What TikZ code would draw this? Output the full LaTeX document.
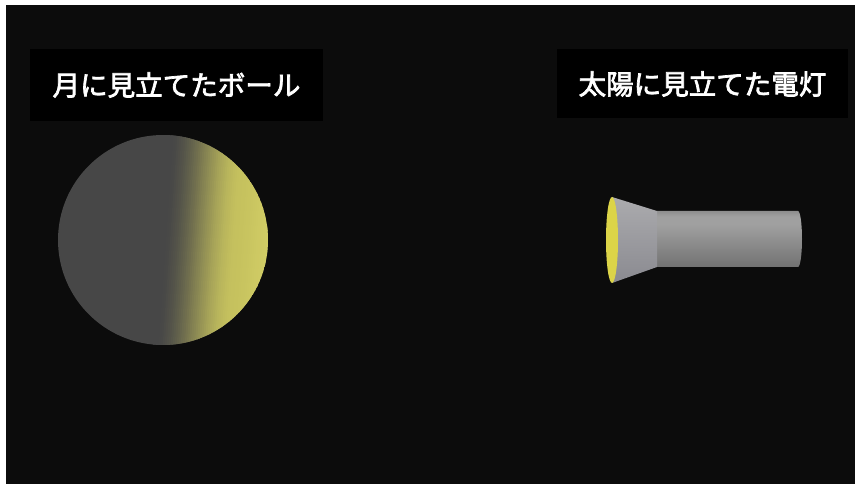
\documentclass[tikz,border=0pt]{standalone}
\usepackage{fontspec}
\newfontfamily\jpfont{Noto Sans CJK JP}[BoldFont={Noto Sans CJK JP}, BoldFeatures={FakeBold=2.6}]
\usepackage{tikz}
\usetikzlibrary{positioning,calc}
\definecolor{bgdark}{HTML}{0C0C0C}
\definecolor{moongray}{HTML}{474747}
\definecolor{moonyellow}{HTML}{C6C25E}
\definecolor{moonlight}{HTML}{DAD66C}
\definecolor{bulb}{HTML}{DCD448}
\definecolor{tubetop}{HTML}{8E8E8E}
\definecolor{tubemid}{HTML}{A0A0A0}
\definecolor{tubebot}{HTML}{727272}
\definecolor{conetop}{HTML}{ABABAE}
\definecolor{conebot}{HTML}{8A8A90}
\pgfdeclareverticalshading{tube}{100bp}{color(0bp)=(tubebot); color(25bp)=(tubebot);
    color(63bp)=(tubemid); color(70bp)=(tubemid); color(75bp)=(tubetop); color(100bp)=(tubetop)}
\tikzset{tag/.style={fill=black,text=white,inner sep=0pt,font=\jpfont\bfseries\fontsize{23.5}{28}\selectfont}}

\begin{document}
\begin{tikzpicture}[x=0.03cm, y=-0.03cm]
    \useasboundingbox (0,0) rectangle (855,484);
    \fill[bgdark] (6,5) rectangle (870,500);
    % labels
    \node[tag,minimum width=8.79cm,minimum height=2.16cm] (balltag) at (176.5,85) {月に見立てたボール};
    \node[tag,minimum width=8.73cm,minimum height=2.07cm] (lamptag) at (702.5,84) {太陽に見立てた電灯};
    % the ball, lit from the right
    \coordinate (moon) at (163,240);
    \begin{scope}
        \clip (moon) circle[radius=105];
        \fill[moongray] (moon) circle[radius=105];
        \begin{scope}[rotate around={-4:(moon)}]
            % half-shadow band
            \foreach \k in {0,...,39} {
                \pgfmathtruncatemacro\p{100*(3*(\k/39)^2-2*(\k/39)^3)}
                \fill[moonyellow!\p!moongray] (160+2*\k,90) rectangle ++(2.6,300);
            }
            % lit side
            \foreach \k in {0,...,24} {
                \pgfmathtruncatemacro\p{100*\k/24}
                \fill[moonlight!\p!moonyellow] (240+2*\k,90) rectangle ++(2.6,300);
            }
        \end{scope}
    \end{scope}
    % the lamp
    \coordinate (lens) at (612,240);
    \shade[shading=tube]
        (657,211) -- (798,211) arc[start angle=-90, end angle=90, x radius=4, y radius=28] -- (657,267) -- cycle;
    \shade[top color=conetop, bottom color=conebot]
        (612,197) -- (657,211) -- (657,267) -- (612,283) -- cycle;
    \fill[bulb] (lens) ellipse[x radius=6, y radius=43];
\end{tikzpicture}
\end{document}
